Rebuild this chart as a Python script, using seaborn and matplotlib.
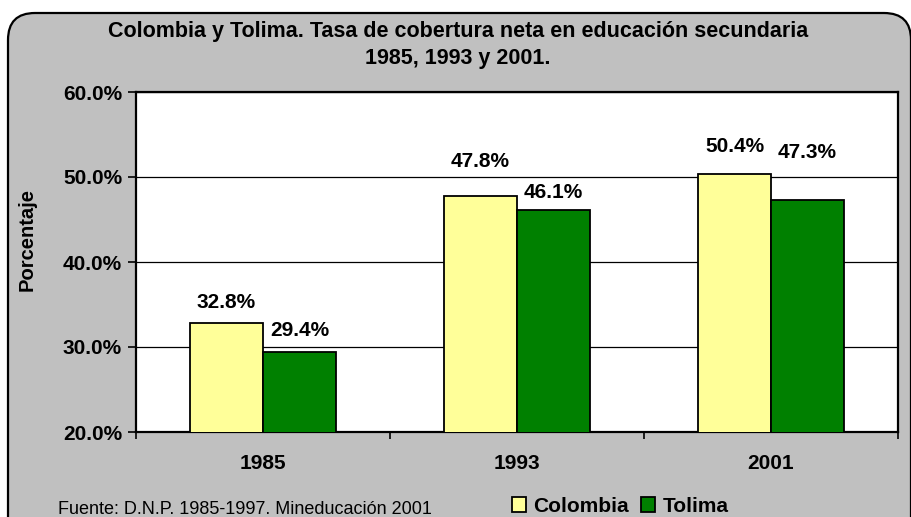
import matplotlib
matplotlib.use("Agg")
import matplotlib.pyplot as plt
import seaborn as sns
import pandas as pd
from matplotlib.patches import FancyBboxPatch
from matplotlib.ticker import FuncFormatter

# ---- data ----
years = ["1985", "1993", "2001"]
colombia = [32.8, 47.8, 50.4]
tolima = [29.4, 46.1, 47.3]
series_names = ["Colombia", "Tolima"]
colors = ["#FFFF99", "#008000"]
title_line1 = "Colombia y Tolima. Tasa de cobertura neta en educación secundaria"
title_line2 = "1985, 1993 y 2001."
ylabel = "Porcentaje"
source = "Fuente: D.N.P. 1985-1997. Mineducación 2001"
# label offsets above bar tops (pixels), as positioned in the original
label_off = {"Colombia": [21, 34, 27], "Tolima": [22, 18, 47]}

df = pd.DataFrame({
    "Año": years * 2,
    "Serie": [series_names[0]] * 3 + [series_names[1]] * 3,
    "Valor": colombia + tolima,
})

sns.set_theme(style="white")
plt.rcParams["font.family"] = ["Liberation Sans", "DejaVu Sans"]
plt.rcParams["text.color"] = "black"
plt.rcParams["axes.labelcolor"] = "black"
plt.rcParams["xtick.color"] = "black"
plt.rcParams["ytick.color"] = "black"

W, H, DPI = 912, 517, 100
fig = plt.figure(figsize=(W / DPI, H / DPI), dpi=DPI, facecolor="white")

# rounded gray chart area
bg = FancyBboxPatch((8, -40), 903, 504 + 40, boxstyle="round,pad=0,rounding_size=27",
                    transform=None, facecolor="#C0C0C0", edgecolor="black", lw=1.6, zorder=-5)
fig.add_artist(bg)

ax = fig.add_axes([136 / W, 1 - 432 / H, (898 - 136) / W, (432 - 92) / H])
ax.set_facecolor("white")

sns.barplot(data=df, x="Año", y="Valor", hue="Serie", hue_order=series_names,
            palette=colors, width=0.575, gap=0, edgecolor="black", linewidth=1.3,
            saturation=1, ax=ax, zorder=3)

ax.set_ylim(20, 60)
ax.set_xlim(-0.5, 2.5)
ax.set_yticks([20, 30, 40, 50, 60])
ax.yaxis.set_major_formatter(FuncFormatter(lambda v, p: f"{v:.1f}%"))
ax.grid(axis="y", color="black", lw=0.9, zorder=0)
ax.set_axisbelow(True)
for s in ax.spines.values():
    s.set_color("black")
    s.set_linewidth(1.6)

ax.tick_params(axis="y", which="major", direction="out", length=6, width=1.2,
               color="black", pad=4, labelsize=15, left=True, labelcolor="black")
ax.tick_params(axis="x", which="major", length=0, pad=16, labelsize=15, labelcolor="black")
ax.set_xticks([-0.5, 0.5, 1.5, 2.5], minor=True)
ax.tick_params(axis="x", which="minor", direction="out", length=5, width=1.2,
               color="black", bottom=True)
for lab in ax.get_xticklabels() + ax.get_yticklabels():
    lab.set_fontweight("bold")
    lab.set_color("black")
ax.set_xlabel("")
ax.set_ylabel("")

# data labels
for cont, name in zip(ax.containers, series_names):
    for bar, off in zip(cont, label_off[name]):
        h = bar.get_height()
        ax.annotate(f"{h:.1f}%", (bar.get_x() + bar.get_width() / 2, h),
                    xytext=(0, off * 72 / DPI), textcoords="offset points",
                    ha="center", va="center", fontsize=15, fontweight="bold",
                    color="black", zorder=5)

handles, labels = ax.get_legend_handles_labels()
ax.legend_.remove()
fig.legend(handles, labels, loc="center", bbox_to_anchor=(620 / W, 1 - 506 / H),
           ncol=2, frameon=False, handlelength=0.7, handleheight=0.7,
           handletextpad=0.35, columnspacing=0.55,
           prop={"weight": "bold", "size": 15}, labelcolor="black")

fig.text(458 / W, 1 - 32 / H, title_line1, ha="center", va="center",
         fontsize=15.5, fontweight="bold", color="black")
fig.text(458 / W, 1 - 58 / H, title_line2, ha="center", va="center",
         fontsize=15.5, fontweight="bold", color="black")
fig.text(27 / W, 1 - 240 / H, ylabel, rotation=90, ha="center", va="center",
         fontsize=14.5, fontweight="bold", color="black")
fig.text(58 / W, 1 - 510 / H, source, ha="left", va="center", fontsize=13, color="black")

fig.savefig("out.png", dpi=DPI, facecolor="white")
